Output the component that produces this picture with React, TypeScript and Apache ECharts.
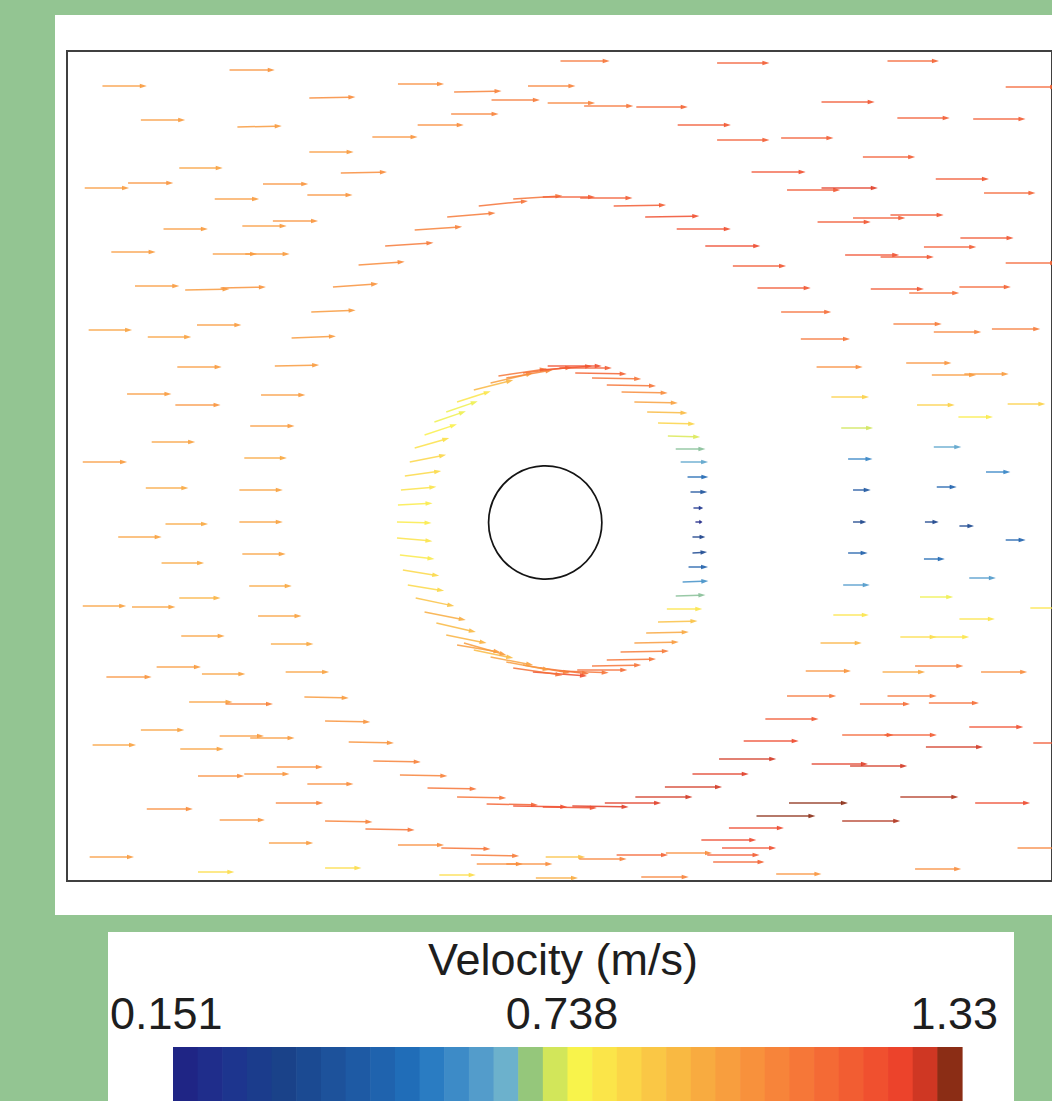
import React, { useEffect, useRef } from "react";
import * as echarts from "echarts";

// ---- colour scale (discrete bands of the legend) ----
const BAND_COLORS = [
  "#1f2585", "#1f2d8b", "#1d358e", "#1b3c8c", "#1a4289", "#1b4a92", "#1d529b",
  "#1e5aa4", "#1f63ae", "#206db8", "#2a7cc2", "#3d8bc7", "#539ccb", "#6cb1cc",
  "#95c77b",
  "#d2e65a", "#f8f34b", "#fbe549", "#fbd647", "#fac745", "#f9b942", "#f8ab40",
  "#f89e3e", "#f8913c", "#f7843a", "#f67738", "#f46a35", "#f25d32", "#f0502f",
  "#ec432b", "#cf3723", "#8b2d15",
];
const SPEED_MIN = 0.151;
const SPEED_MAX = 1.33;
const COLORBAR_TITLE = "Velocity (m/s)";
const COLORBAR_LABELS = ["0.151", "0.738", "1.33"];

// ---- geometry of the domain (mm) ----
const DOMAIN_X = [0, 1000];
const DOMAIN_Y = [0, 830];
const CYLINDER = [[485.5, 358.5, 57.5]]; // centre x, centre y, radius
const ARROW_SCALE = 45; // mm of arrow per m/s

// ---- velocity samples: [x (mm), y (mm), u (m/s), v (m/s)] ----
const UPSTREAM_UPPER = [
  [36, 795, 1.0, 0], [165, 811, 1.02, 0], [246, 783, 1.04, 0.02], [336, 797, 1.04, 0],
  [393, 789, 1.07, 0.02], [468, 795, 1.07, 0], [431, 781, 1.09, 0], [488, 778, 1.07, 0],
  [525, 775, 1.11, 0], [578, 774, 1.16, 0], [75, 761, 1.0, 0], [173, 754, 1.0, 0.02],
  [390, 767, 1.07, 0], [356, 756, 1.04, 0], [310, 744, 1.02, 0], [246, 729, 1.0, 0],
  [114, 713, 0.98, 0], [278, 708, 1.04, 0.02], [18, 693, 1.0, 0], [62, 698, 1.02, 0],
  [199, 697, 1.02, 0], [150, 682, 1.0, 0], [244, 686, 1.02, 0], [98, 652, 1.0, 0],
  [178, 655, 1.0, 0], [209, 660, 1.02, 0], [45, 629, 1.0, 0], [148, 627, 1.0, 0],
  [181, 627, 1.0, 0], [69, 595, 1.0, 0], [120, 591, 1.0, 0.02], [156, 593, 1.02, 0.02],
  [22, 551, 0.98, 0], [82, 544, 0.98, 0], [132, 556, 1.0, 0], [112, 514, 1.0, 0],
  [61, 487, 1.0, 0], [110, 476, 1.02, 0], [86, 439, 0.98, 0], [16, 419, 1.0, 0],
];

const UPPER_ARC = [
  [453, 682, 1.11, 0.07], [483, 684, 1.18, 0], [521, 683, 1.18, 0], [418, 675, 1.11, 0.11],
  [386, 664, 1.09, 0.09], [353, 651, 1.07, 0.07], [323, 635, 1.09, 0.07], [296, 616, 1.04, 0.07],
  [270, 594, 1.02, 0.07], [248, 569, 1.0, 0.04], [228, 543, 1.0, 0.04], [211, 515, 1.0, 0.02],
  [197, 486, 1.0, 0], [186, 455, 1.0, 0], [180, 423, 0.96, 0],
];

const UPPER_RIGHT_ARC = [
  [555, 675, 1.18, 0.02], [587, 664, 1.22, 0.02], [619, 652, 1.22, 0], [648, 635, 1.24, 0],
  [676, 615, 1.2, 0], [701, 593, 1.2, 0], [725, 569, 1.13, 0], [745, 542, 1.11, 0],
  [761, 514, 1.04, 0], [776, 484, 0.85, 0], [786, 453, 0.72, 0], [793, 422, 0.55, 0],
];

const WAKE_ARC = [
  [798, 391, 0.4, 0], [798, 359, 0.3, 0], [793, 328, 0.44, 0], [788, 296, 0.6, 0],
  [778, 266, 0.8, 0], [765, 238, 0.93, 0], [750, 210, 1.02, 0], [731, 185, 1.11, 0],
  [709, 162, 1.2, 0], [687, 140, 1.24, 0], [662, 122, 1.29, 0], [635, 107, 1.27, 0],
  [607, 94, 1.29, 0], [577, 84, 1.29, 0], [546, 78, 1.27, 0], [513, 75, 1.27, -0.02],
  [483, 74, 1.22, -0.02],
];

const LOWER_ARC = [
  [222, 209, 0.98, 0], [241, 184, 1.0, -0.02], [262, 160, 1.02, -0.02], [286, 139, 1.02, -0.02],
  [311, 120, 1.07, -0.02], [338, 106, 1.07, -0.02], [366, 93, 1.11, -0.02], [396, 84, 1.11, -0.02],
  [426, 77, 1.16, -0.02], [453, 75, 1.22, -0.02],
];

const UPSTREAM_LOWER = [
  [80, 393, 0.96, 0], [175, 391, 0.98, 0], [100, 357, 0.96, 0], [175, 359, 0.98, 0],
  [52, 344, 0.98, 0], [178, 327, 0.98, 0], [96, 318, 0.96, 0], [185, 295, 0.96, 0],
  [114, 283, 0.93, 0], [16, 275, 0.98, 0], [66, 274, 0.98, 0], [194, 265, 0.98, 0],
  [116, 245, 0.98, 0], [207, 237, 0.96, 0], [91, 214, 1.0, 0], [137, 207, 0.98, 0],
  [40, 204, 1.02, 0], [124, 179, 0.98, 0], [161, 177, 1.07, 0], [75, 151, 0.98, 0],
  [155, 145, 1.0, 0], [186, 143, 1.0, 0], [26, 136, 0.98, 0], [115, 132, 0.98, 0],
  [213, 114, 1.04, 0], [133, 105, 1.04, 0], [180, 107, 1.02, 0], [244, 97, 1.04, 0],
  [81, 72, 1.04, 0], [212, 78, 1.07, 0], [155, 61, 1.02, 0], [262, 60, 1.07, -0.02],
  [303, 52, 1.11, -0.02], [205, 38, 1.0, 0], [336, 36, 1.04, 0], [380, 33, 1.11, -0.02],
  [410, 26, 1.09, -0.02], [416, 17, 1.04, 0], [446, 17, 1.04, 0], [23, 24, 1.0, 0],
  [133, 9, 0.82, 0], [262, 13, 0.82, 0], [378, 6, 0.82, 0], [476, 3, 0.95, 0],
];

const DOWNSTREAM_LOWER = [
  [486, 24, 0.89, 0], [520, 22, 1.07, 0], [558, 26, 1.16, 0], [608, 28, 1.04, 0],
  [650, 26, 1.18, 0], [656, 19, 1.16, 0], [583, 4, 1.07, 0], [720, 7, 1.02, 0],
  [861, 12, 1.04, 0], [965, 33, 1.07, 0], [672, 53, 1.24, 0], [644, 41, 1.24, 0],
  [665, 33, 1.22, 0], [700, 65, 1.33, 0], [787, 60, 1.31, 0], [733, 78, 1.33, 0],
  [846, 84, 1.31, 0], [922, 78, 1.24, 0], [756, 117, 1.27, 0], [795, 115, 1.29, 0],
  [872, 134, 1.29, 0], [981, 138, 1.2, 0], [787, 146, 1.16, 0], [830, 146, 1.18, 0],
  [916, 154, 1.22, 0], [805, 177, 1.13, 0], [833, 185, 1.11, 0], [875, 178, 1.13, 0],
  [828, 209, 0.96, 0], [861, 215, 1.09, 0], [928, 209, 1.04, 0], [846, 244, 0.82, 0],
  [880, 244, 0.8, 0], [906, 262, 0.8, 0], [866, 284, 0.75, 0], [916, 303, 0.6, 0],
  [870, 322, 0.47, 0], [953, 341, 0.45, 0], [906, 355, 0.33, 0], [871, 359, 0.31, 0],
  [883, 394, 0.45, 0], [933, 409, 0.55, 0], [978, 273, 0.8, 0],
];

const DOWNSTREAM_UPPER = [
  [501, 820, 1.11, 0], [660, 818, 1.18, 0], [833, 820, 1.16, 0], [953, 794, 1.16, 0],
  [766, 779, 1.2, 0], [843, 763, 1.18, 0], [920, 762, 1.18, 0], [620, 756, 1.2, 0],
  [660, 741, 1.18, 0], [725, 743, 1.18, 0], [808, 724, 1.18, 0], [695, 709, 1.22, 0],
  [882, 702, 1.2, 0], [731, 691, 1.2, 0], [766, 693, 1.27, 0], [931, 688, 1.16, 0],
  [762, 659, 1.2, 0], [798, 663, 1.18, 0], [836, 666, 1.2, 0], [907, 643, 1.2, 0],
  [870, 634, 1.18, 0], [790, 626, 1.22, 0], [826, 624, 1.2, 0], [953, 618, 1.16, 0],
  [816, 592, 1.2, 0], [855, 588, 1.13, 0], [906, 594, 1.16, 0], [839, 557, 1.09, 0],
  [880, 549, 1.07, 0], [939, 552, 1.09, 0], [852, 518, 1.02, 0], [878, 506, 1.0, 0],
  [911, 507, 1.0, 0], [863, 476, 0.85, 0], [955, 477, 0.85, 0], [905, 464, 0.78, 0],
  [880, 434, 0.62, 0],
];

const RING = [
  [413, 491, 0.89, 0.22], [430, 498, 0.96, 0.22], [438, 505, 1.09, 0.16], [446, 503, 1.04, 0.18],
  [463, 508, 1.11, 0.13], [480, 511, 1.18, 0.09], [488, 515, 1.22, 0], [500, 513, 1.18, 0],
  [516, 508, 1.16, -0.02], [533, 503, 1.11, -0.02], [548, 496, 1.11, -0.02], [563, 489, 1.04, -0.02],
  [576, 479, 0.98, -0.02], [589, 469, 0.91, -0.02], [600, 458, 0.84, -0.02], [610, 445, 0.73, -0.02],
  [618, 432, 0.67, 0], [623, 419, 0.62, 0], [630, 404, 0.47, 0], [633, 389, 0.38, 0],
  [636, 373, 0.22, 0], [638, 359, 0.16, 0], [635, 344, 0.29, 0], [635, 328, 0.33, 0.02],
  [631, 314, 0.44, 0], [625, 299, 0.58, 0.02], [618, 285, 0.67, 0.02], [609, 272, 0.8, 0],
  [600, 259, 0.89, 0.02], [588, 248, 0.96, 0.02], [576, 238, 1.0, 0.02], [562, 229, 1.09, 0.02],
  [548, 221, 1.11, 0.02], [533, 215, 1.11, 0.02], [518, 211, 1.13, 0], [500, 210, 1.11, -0.04],
  [480, 213, 1.11, -0.13], [473, 209, 1.22, -0.09], [463, 216, 1.06, -0.18], [453, 213, 1.11, -0.16],
  [446, 219, 0.98, -0.18], [430, 224, 0.96, -0.18], [413, 231, 0.89, -0.18], [403, 238, 0.96, -0.27],
  [396, 236, 0.98, -0.16], [385, 246, 0.91, -0.18], [375, 258, 0.89, -0.2], [363, 269, 0.93, -0.18],
  [354, 283, 0.87, -0.18], [346, 296, 0.82, -0.13], [341, 311, 0.82, -0.13], [338, 326, 0.78, -0.09],
  [335, 343, 0.8, -0.07], [335, 359, 0.78, -0.02], [336, 376, 0.78, 0.04], [339, 391, 0.8, 0.07],
  [343, 405, 0.82, 0.11], [348, 419, 0.82, 0.16], [353, 433, 0.78, 0.22], [363, 446, 0.73, 0.24],
  [373, 459, 0.71, 0.24], [385, 469, 0.71, 0.24], [396, 479, 0.76, 0.24],
];

export default function App() {
  const ref = useRef<HTMLDivElement>(null);

  useEffect(() => {
    if (!ref.current) return;
    const chart = echarts.init(ref.current, null, { renderer: "svg" });

    const samples = [
      ...UPSTREAM_UPPER, ...UPPER_ARC, ...UPPER_RIGHT_ARC, ...WAKE_ARC, ...LOWER_ARC,
      ...UPSTREAM_LOWER, ...DOWNSTREAM_LOWER, ...DOWNSTREAM_UPPER, ...RING,
    ].map(([x, y, u, v]) => [x, y, u, v, Math.hypot(u, v)]);

    const barLeft = 173;
    const barWidth = 789;
    const bw = barWidth / BAND_COLORS.length;
    const textColor = "#1e1e1e";
    const font = '"Liberation Sans", Arial, sans-serif';
    const textStyle = (text: string, align: string) => ({
      text, fontSize: 45, lineHeight: 45, fontFamily: font, fill: textColor, align, verticalAlign: "middle",
    });

    const option: any = {
      animation: false,
      backgroundColor: "#93c592",
      grid: {
        left: 67, top: 51, width: 1000, height: 830,
        show: true, borderColor: "#404040", borderWidth: 2,
        backgroundColor: "transparent", z: 5,
      },
      xAxis: {
        type: "value", min: DOMAIN_X[0], max: DOMAIN_X[1],
        axisLine: { show: false }, axisTick: { show: false },
        axisLabel: { show: false }, splitLine: { show: false },
      },
      yAxis: {
        type: "value", min: DOMAIN_Y[0], max: DOMAIN_Y[1],
        axisLine: { show: false }, axisTick: { show: false },
        axisLabel: { show: false }, splitLine: { show: false },
      },
      visualMap: {
        type: "continuous", show: false, seriesIndex: 0, dimension: 4,
        min: SPEED_MIN, max: SPEED_MAX, inRange: { color: BAND_COLORS },
      },
      graphic: [
        { type: "rect", z: 0, shape: { x: 55, y: 15, width: 1010, height: 900 }, style: { fill: "#ffffff" } },
        { type: "rect", z: 0, shape: { x: 108, y: 932, width: 906, height: 180 }, style: { fill: "#ffffff" } },
        ...BAND_COLORS.map((c, i) => ({
          type: "rect", z: 1,
          shape: { x: barLeft + i * bw, y: 1047, width: bw + 0.6, height: 60 },
          style: { fill: c },
        })),
        { type: "text", z: 2, x: 563, y: 959, style: textStyle(COLORBAR_TITLE, "center") },
        { type: "text", z: 2, x: 110, y: 1013, style: textStyle(COLORBAR_LABELS[0], "left") },
        { type: "text", z: 2, x: 562, y: 1013, style: textStyle(COLORBAR_LABELS[1], "center") },
        { type: "text", z: 2, x: 998, y: 1013, style: textStyle(COLORBAR_LABELS[2], "right") },
      ],
      series: [
        {
          type: "custom",
          z: 10,
          silent: true,
          encode: { x: 0, y: 1 },
          data: samples,
          renderItem: (params: any, api: any) => {
            const x = api.value(0), y = api.value(1), u = api.value(2), v = api.value(3);
            const p0 = api.coord([x, y]);
            const p1 = api.coord([x + u * ARROW_SCALE, y + v * ARROW_SCALE]);
            const color = api.visual("color");
            const dx = p1[0] - p0[0], dy = p1[1] - p0[1];
            const len = Math.hypot(dx, dy) || 1;
            const ux = dx / len, uy = dy / len;
            const hl = Math.min(7, len * 0.45);
            const hw = 2.3;
            const bx = p1[0] - ux * hl, by = p1[1] - uy * hl;
            return {
              type: "group",
              children: [
                { type: "line", shape: { x1: p0[0], y1: p0[1], x2: bx + ux, y2: by + uy }, style: { stroke: color, lineWidth: 1.5, opacity: 0.85 } },
                {
                  type: "polygon",
                  shape: { points: [[p1[0], p1[1]], [bx - uy * hw, by + ux * hw], [bx + uy * hw, by - ux * hw]] },
                  style: { fill: color, opacity: 0.9 },
                },
              ],
            };
          },
        },
        {
          type: "custom",
          z: 11,
          silent: true,
          encode: { x: 0, y: 1 },
          data: CYLINDER,
          renderItem: (params: any, api: any) => {
            const c = api.coord([api.value(0), api.value(1)]);
            const r = api.size([api.value(2), 0])[0];
            return {
              type: "circle",
              shape: { cx: c[0], cy: c[1], r },
              style: { fill: "none", stroke: "#141414", lineWidth: 1.7 },
            };
          },
        },
      ],
    };

    chart.setOption(option);
    return () => chart.dispose();
  }, []);

  return (
    <div
      ref={ref}
      style={{ position: "absolute", left: 0, top: 0, width: 1052, height: 1101, overflow: "hidden" }}
    />
  );
}
